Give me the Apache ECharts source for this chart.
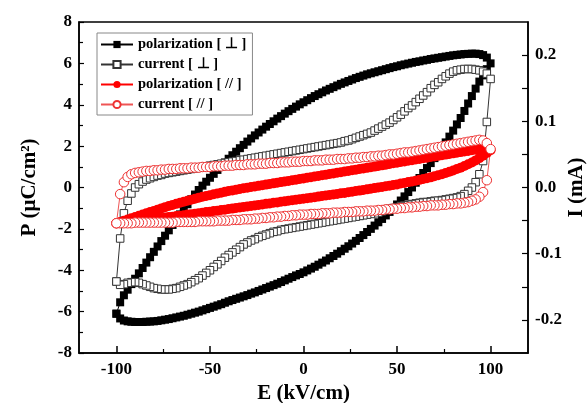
<!DOCTYPE html>
<html>
<head>
<meta charset="utf-8">
<script src="https://cdn.jsdelivr.net/npm/echarts@6/dist/echarts.min.js"></script>
<style>html,body{margin:0;padding:0;background:#fff;}#c{width:588px;height:403px;}</style>
</head>
<body>
<div id="c"></div>
<script>
// Electric field samples: increasing sweep then decreasing sweep (kV/cm)
const eUp = [-100,-98,-96,-94,-92,-90,-88,-86,-84,-82,-80,-78,-76,-74,-72,-70,-68,-66,-64,-62,-60,-58,-56,-54,-52,-50,-48,-46,-44,-42,-40,-38,-36,-34,-32,-30,-28,-26,-24,-22,-20,-18,-16,-14,-12,-10,-8,-6,-4,-2,0,2,4,6,8,10,12,14,16,18,20,22,24,26,28,30,32,34,36,38,40,42,44,46,48,50,52,54,56,58,60,62,64,66,68,70,72,74,76,78,80,82,84,86,88,90,92,94,96,98,100];
const eDown = [98,96,94,92,90,88,86,84,82,80,78,76,74,72,70,68,66,64,62,60,58,56,54,52,50,48,46,44,42,40,38,36,34,32,30,28,26,24,22,20,18,16,14,12,10,8,6,4,2,0,-2,-4,-6,-8,-10,-12,-14,-16,-18,-20,-22,-24,-26,-28,-30,-32,-34,-36,-38,-40,-42,-44,-46,-48,-50,-52,-54,-56,-58,-60,-62,-64,-66,-68,-70,-72,-74,-76,-78,-80,-82,-84,-86,-88,-90,-92,-94,-96,-98,-100];

// polarization [ ⊥ ] (µC/cm²)
const pPerpUp = [-6.10,-6.33,-6.43,-6.47,-6.49,-6.50,-6.50,-6.50,-6.49,-6.48,
-6.47,-6.45,-6.42,-6.39,-6.36,-6.32,-6.28,-6.24,-6.20,-6.15,
-6.10,-6.05,-6.00,-5.94,-5.88,-5.82,-5.76,-5.70,-5.64,-5.57,
-5.50,-5.44,-5.38,-5.32,-5.26,-5.20,-5.13,-5.07,-5.00,-4.93,
-4.86,-4.79,-4.72,-4.65,-4.57,-4.49,-4.41,-4.33,-4.25,-4.18,
-4.10,-4.01,-3.92,-3.83,-3.73,-3.63,-3.53,-3.42,-3.31,-3.20,
-3.08,-2.96,-2.84,-2.71,-2.58,-2.44,-2.30,-2.15,-2.00,-1.84,
-1.68,-1.52,-1.35,-1.18,-1.00,-0.82,-0.63,-0.43,-0.22,0.00,
0.23,0.46,0.70,0.94,1.18,1.42,1.67,1.92,2.18,2.46,
2.75,3.05,3.36,3.70,4.06,4.42,4.78,5.12,5.42,5.72,
6.00];
const pPerpDown = [6.28,6.40,6.45,6.47,6.47,6.46,6.45,6.43,6.41,6.39,
6.36,6.33,6.30,6.27,6.24,6.21,6.17,6.14,6.10,6.07,
6.03,5.99,5.95,5.91,5.86,5.82,5.77,5.72,5.67,5.62,
5.57,5.52,5.47,5.41,5.35,5.29,5.22,5.15,5.08,5.01,
4.93,4.85,4.77,4.69,4.60,4.51,4.42,4.32,4.22,4.12,
4.02,3.91,3.80,3.69,3.57,3.45,3.33,3.20,3.07,2.94,
2.80,2.66,2.52,2.37,2.22,2.06,1.90,1.73,1.56,1.39,
1.21,1.03,0.85,0.66,0.47,0.28,0.09,-0.12,-0.34,-0.57,
-0.81,-1.05,-1.30,-1.55,-1.81,-2.07,-2.33,-2.59,-2.85,-3.11,
-3.37,-3.63,-3.89,-4.15,-4.41,-4.67,-4.94,-5.21,-5.55,-6.10];

// current [ ⊥ ] (mA)
const iPerpUp = [-0.142,-0.077,-0.039,-0.020,-0.009,0.000,0.005,0.009,0.012,0.014,
0.016,0.018,0.019,0.021,0.022,0.023,0.024,0.025,0.026,0.027,
0.028,0.029,0.030,0.031,0.032,0.033,0.034,0.035,0.036,0.037,
0.038,0.039,0.040,0.041,0.042,0.043,0.044,0.045,0.046,0.047,
0.048,0.049,0.050,0.051,0.052,0.053,0.054,0.055,0.056,0.057,
0.058,0.059,0.060,0.061,0.062,0.063,0.064,0.065,0.066,0.067,
0.068,0.070,0.071,0.073,0.075,0.077,0.079,0.081,0.083,0.086,
0.089,0.092,0.095,0.098,0.102,0.106,0.110,0.115,0.120,0.124,
0.129,0.134,0.139,0.144,0.150,0.155,0.159,0.164,0.168,0.172,
0.175,0.177,0.178,0.179,0.179,0.179,0.178,0.177,0.175,0.172,
0.164];
const iPerpDown = [0.099,0.040,0.020,0.008,0.000,-0.005,-0.010,-0.013,-0.015,-0.016,
-0.017,-0.018,-0.019,-0.020,-0.020,-0.021,-0.022,-0.022,-0.023,-0.024,
-0.025,-0.026,-0.027,-0.028,-0.030,-0.031,-0.032,-0.034,-0.036,-0.038,
-0.039,-0.040,-0.041,-0.042,-0.043,-0.044,-0.045,-0.046,-0.047,-0.048,
-0.049,-0.050,-0.051,-0.052,-0.053,-0.054,-0.055,-0.056,-0.057,-0.058,
-0.059,-0.060,-0.061,-0.062,-0.063,-0.064,-0.066,-0.067,-0.069,-0.071,
-0.073,-0.075,-0.078,-0.080,-0.083,-0.086,-0.090,-0.094,-0.098,-0.102,
-0.106,-0.111,-0.116,-0.120,-0.125,-0.129,-0.133,-0.137,-0.140,-0.143,
-0.146,-0.148,-0.150,-0.152,-0.153,-0.154,-0.154,-0.154,-0.153,-0.152,
-0.150,-0.148,-0.146,-0.144,-0.143,-0.143,-0.144,-0.146,-0.147,-0.142];

// polarization [ // ] (µC/cm²)
const pParUp = [-1.73,-1.70,-1.68,-1.66,-1.64,-1.62,-1.60,-1.58,-1.56,-1.54,
-1.52,-1.50,-1.47,-1.45,-1.43,-1.41,-1.38,-1.36,-1.34,-1.31,
-1.29,-1.27,-1.24,-1.22,-1.19,-1.17,-1.14,-1.12,-1.09,-1.07,
-1.04,-1.02,-0.99,-0.97,-0.94,-0.92,-0.89,-0.87,-0.84,-0.82,
-0.79,-0.77,-0.74,-0.72,-0.69,-0.67,-0.64,-0.62,-0.59,-0.57,
-0.54,-0.52,-0.49,-0.47,-0.44,-0.41,-0.39,-0.36,-0.34,-0.31,
-0.28,-0.26,-0.23,-0.20,-0.17,-0.15,-0.12,-0.09,-0.06,-0.03,
0.00,0.03,0.06,0.09,0.12,0.15,0.19,0.22,0.26,0.29,
0.33,0.37,0.41,0.45,0.49,0.54,0.59,0.64,0.70,0.76,
0.82,0.89,0.96,1.04,1.12,1.21,1.31,1.42,1.54,1.67,
1.80];
const pParDown = [1.88,1.88,1.86,1.83,1.80,1.77,1.74,1.71,1.68,1.65,
1.62,1.59,1.56,1.53,1.50,1.47,1.44,1.41,1.38,1.35,
1.32,1.29,1.26,1.23,1.20,1.17,1.14,1.10,1.07,1.04,
1.01,0.98,0.95,0.92,0.89,0.86,0.83,0.80,0.77,0.74,
0.71,0.68,0.65,0.62,0.59,0.56,0.53,0.50,0.47,0.44,
0.41,0.38,0.35,0.32,0.29,0.26,0.23,0.20,0.17,0.14,
0.11,0.08,0.05,0.02,-0.01,-0.04,-0.07,-0.11,-0.14,-0.17,
-0.21,-0.25,-0.29,-0.33,-0.37,-0.41,-0.45,-0.49,-0.54,-0.59,
-0.64,-0.69,-0.74,-0.79,-0.84,-0.89,-0.95,-1.01,-1.07,-1.13,
-1.19,-1.25,-1.31,-1.37,-1.43,-1.49,-1.55,-1.61,-1.67,-1.73];

// current [ // ] (mA)
const iParUp = [-0.054,-0.010,0.008,0.016,0.020,0.022,0.023,0.024,0.025,0.025,
0.026,0.026,0.027,0.027,0.028,0.028,0.028,0.029,0.029,0.029,
0.030,0.030,0.030,0.031,0.031,0.031,0.032,0.032,0.032,0.033,
0.033,0.033,0.034,0.034,0.034,0.035,0.035,0.035,0.036,0.036,
0.036,0.037,0.037,0.037,0.038,0.038,0.038,0.039,0.039,0.039,
0.040,0.040,0.040,0.041,0.041,0.041,0.042,0.042,0.042,0.043,
0.043,0.043,0.044,0.044,0.045,0.045,0.046,0.046,0.047,0.047,
0.048,0.048,0.049,0.050,0.050,0.051,0.052,0.053,0.053,0.054,
0.055,0.056,0.057,0.058,0.059,0.060,0.061,0.062,0.063,0.064,
0.065,0.066,0.067,0.068,0.069,0.070,0.071,0.072,0.071,0.067,
0.058];
const iParDown = [0.011,-0.007,-0.014,-0.018,-0.020,-0.022,-0.023,-0.024,-0.024,-0.025,
-0.025,-0.026,-0.026,-0.027,-0.027,-0.027,-0.028,-0.028,-0.029,-0.029,
-0.030,-0.030,-0.031,-0.031,-0.032,-0.032,-0.033,-0.033,-0.034,-0.034,
-0.035,-0.035,-0.035,-0.036,-0.036,-0.036,-0.037,-0.037,-0.037,-0.038,
-0.038,-0.038,-0.039,-0.039,-0.039,-0.040,-0.040,-0.040,-0.041,-0.041,
-0.041,-0.042,-0.042,-0.043,-0.043,-0.044,-0.044,-0.045,-0.045,-0.046,
-0.046,-0.047,-0.047,-0.048,-0.048,-0.048,-0.049,-0.049,-0.049,-0.050,
-0.050,-0.050,-0.050,-0.051,-0.051,-0.051,-0.051,-0.051,-0.052,-0.052,
-0.052,-0.052,-0.052,-0.052,-0.053,-0.053,-0.053,-0.053,-0.053,-0.053,
-0.053,-0.053,-0.053,-0.053,-0.053,-0.054,-0.054,-0.054,-0.054,-0.054];

const xMajorTicks = [-100, -50, 0, 50, 100];
const xMinorTicks = [-75, -25, 25, 75];
const iTicks = [-0.2, -0.15, -0.1, -0.05, 0, 0.05, 0.1, 0.15, 0.2];
const iLabels = [-0.2, -0.1, 0, 0.1, 0.2];

const names = ['polarization [ ⊥ ]', 'current [ ⊥ ]', 'polarization [ // ]', 'current [ // ]'];

function loop(up, down) {
  if (up.length !== eUp.length || down.length !== eDown.length) console.error('length mismatch', up.length, down.length);
  return eUp.map((e, i) => [e, up[i]]).concat(eDown.map((e, i) => [e, down[i]]));
}

const FONT = '"Liberation Serif", "Times New Roman", serif';
const lbl = { fontFamily: FONT, fontWeight: 'bold', fontSize: 17, color: '#000' };
const ttl = { fontFamily: FONT, fontWeight: 'bold', fontSize: 21, color: '#000' };
const axLine = { onZero: false, lineStyle: { color: '#000', width: 1.5 } };

const chart = echarts.init(document.getElementById('c'), null, { renderer: 'canvas' });
chart.setOption({
  animation: false,
  backgroundColor: '#fff',
  grid: { left: 79, right: 60, top: 22, bottom: 50, containLabel: false, outerBoundsMode: 'none', show: true, borderColor: '#000', borderWidth: 1.5, backgroundColor: 'transparent' },
  legend: {
    orient: 'vertical', left: 97, top: 33,
    itemWidth: 32, itemHeight: 9, itemGap: 5,
    padding: [4, 6, 3, 3],
    borderColor: '#888', borderWidth: 1, backgroundColor: '#fff',
    textStyle: { fontFamily: FONT, fontWeight: 'bold', fontSize: 14.5, color: '#000' },
    data: names
  },
  xAxis: [
    {
      type: 'value', min: -120, max: 120, position: 'bottom',
      axisLine: axLine,
      axisTick: { inside: true, length: 7, customValues: xMajorTicks, lineStyle: { color: '#000', width: 1.5 } },
      axisLabel: Object.assign({ customValues: xMajorTicks, margin: 8 }, lbl),
      splitLine: { show: false },
      name: 'E (kV/cm)', nameLocation: 'middle', nameGap: 29, nameTextStyle: ttl
    },
    {
      type: 'value', min: -120, max: 120, position: 'bottom',
      axisLine: { show: false, onZero: false },
      axisTick: { inside: true, length: 4, customValues: xMinorTicks, lineStyle: { color: '#000', width: 1.2 } },
      axisLabel: { show: false },
      splitLine: { show: false }
    }
  ],
  yAxis: [
    {
      type: 'value', min: -8, max: 8, interval: 2, position: 'left',
      axisLine: axLine,
      axisTick: { inside: true, length: 5, lineStyle: { color: '#000', width: 1.2 } },
      minorTick: { show: true, splitNumber: 2, length: 4, lineStyle: { color: '#000', width: 1.2 } },
      axisLabel: Object.assign({ margin: 7 }, lbl),
      splitLine: { show: false },
      name: 'P (μC/cm²)', nameLocation: 'middle', nameRotate: 90, nameGap: 39, nameTextStyle: ttl
    },
    {
      type: 'value', min: -0.25, max: 0.25, position: 'right',
      axisLine: axLine,
      axisTick: { inside: true, length: 6, customValues: iTicks, lineStyle: { color: '#000', width: 1.2 } },
      axisLabel: Object.assign({ customValues: iLabels, margin: 7, formatter: v => v.toFixed(1) }, lbl),
      splitLine: { show: false },
      name: 'I (mA)', nameLocation: 'middle', nameRotate: 90, nameGap: 38, nameMoveOverlap: false, nameTextStyle: ttl
    }
  ],
  series: [
    {
      name: names[0], type: 'line', xAxisIndex: 0, yAxisIndex: 0,
      data: loop(pPerpUp, pPerpDown),
      symbol: 'rect', symbolSize: 8, showAllSymbol: true,
      itemStyle: { color: '#000' },
      lineStyle: { color: '#000', width: 1 }
    },
    {
      name: names[1], type: 'line', xAxisIndex: 0, yAxisIndex: 1,
      data: loop(iPerpUp, iPerpDown),
      symbol: 'rect', symbolSize: 7.5, showAllSymbol: true,
      itemStyle: { color: '#fff', borderColor: '#333', borderWidth: 1 },
      lineStyle: { color: '#333', width: 1 }
    },
    {
      name: names[2], type: 'line', xAxisIndex: 0, yAxisIndex: 0,
      data: loop(pParUp, pParDown),
      symbol: 'circle', symbolSize: 10, showAllSymbol: true,
      itemStyle: { color: '#ff0000' },
      lineStyle: { color: '#ff0000', width: 1 }
    },
    {
      name: names[3], type: 'line', xAxisIndex: 0, yAxisIndex: 1,
      data: loop(iParUp, iParDown),
      symbol: 'circle', symbolSize: 9.5, showAllSymbol: true,
      itemStyle: { color: '#fff', borderColor: '#ee3333', borderWidth: 1 },
      lineStyle: { color: '#ee5555', width: 1 }
    }
  ]
});
</script>
</body>
</html>
